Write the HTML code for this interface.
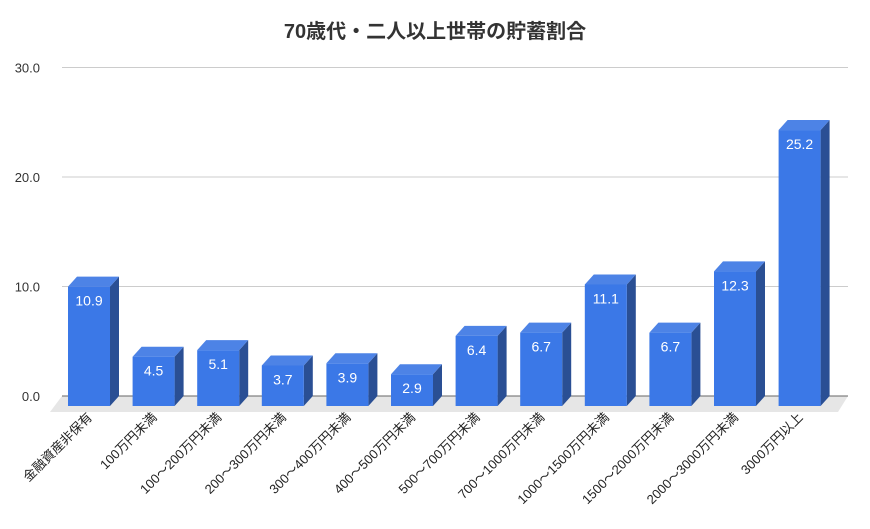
<!DOCTYPE html>
<html><head><meta charset="utf-8"><style>
body{margin:0;background:#fff;}
svg{display:block;font-family:"Liberation Sans","Noto Sans CJK JP",sans-serif;}
</style></head><body>
<svg id="c" width="870" height="529">
<text x="435" y="38" text-anchor="middle" font-size="20" font-weight="bold" fill="#333">70歳代・二人以上世帯の貯蓄割合</text>
</svg>
<script>
const categories=["金融資産非保有","100万円未満","100～200万円未満","200～300万円未満","300～400万円未満","400～500万円未満","500～700万円未満","700～1000万円未満","1000～1500万円未満","1500～2000万円未満","2000～3000万円未満","3000万円以上"];
const values=[10.9,4.5,5.1,3.7,3.9,2.9,6.4,6.7,11.1,6.7,12.3,25.2];
const ticks=[0,10,20,30];
const tickLabels=["0.0","10.0","20.0","30.0"];
const svg=document.getElementById('c');
const NS="http://www.w3.org/2000/svg";
const base=396,k=10.95,dx=9,dy=10,bw=42,x0=68,step=64.6;
const y=v=>base-v*k;
const xb=i=>x0+i*step;
function el(t,a){const e=document.createElementNS(NS,t);for(const n in a)e.setAttribute(n,a[n]);svg.appendChild(e);return e;}
let f=el('polygon',{points:`${62},${base} ${848},${base} ${838},${base+16} ${50},${base+16}`,fill:'#e6e6e6'});


ticks.forEach((t,i)=>{
  const g=el('line',{x1:62,x2:848,y1:y(t),y2:y(t),stroke:t===0?'#666':'#ccc','stroke-width':1});
  
  
  const l=el('text',{x:40,y:y(t)+5,'text-anchor':'end','font-size':13,fill:'#333'});
  l.textContent=tickLabels[i];
  
  
});
values.forEach((v,i)=>{
  const x=xb(i),bot=base+dy,top=y(v)+dy;
  const g=document.createElementNS(NS,'g');svg.appendChild(g);
  
  
  const mk=(t,a)=>{const e=document.createElementNS(NS,t);for(const n in a)e.setAttribute(n,a[n]);g.appendChild(e);return e;};
  mk('polygon',{points:`${x+bw},${top} ${x+bw+dx},${top-dy} ${x+bw+dx},${bot-dy} ${x+bw},${bot}`,fill:'#2a4f94'});
  mk('polygon',{points:`${x},${top} ${x+dx},${top-dy} ${x+bw+dx},${top-dy} ${x+bw},${top}`,fill:'#4d83e6'});
  mk('rect',{x:x,y:top,width:bw,height:bot-top,fill:'#3b78e7'});
  const t=mk('text',{x:x+bw/2,y:top+19,'text-anchor':'middle','font-size':14,fill:'#fff'});
  t.textContent=values[i].toFixed(1);
  const c=el('text',{'text-anchor':'end','font-size':13,fill:'#222',transform:`translate(${x+bw/2+4},${base+22}) rotate(-45)`});
  c.textContent=categories[i];
  
  
});
</script>
</body></html>
